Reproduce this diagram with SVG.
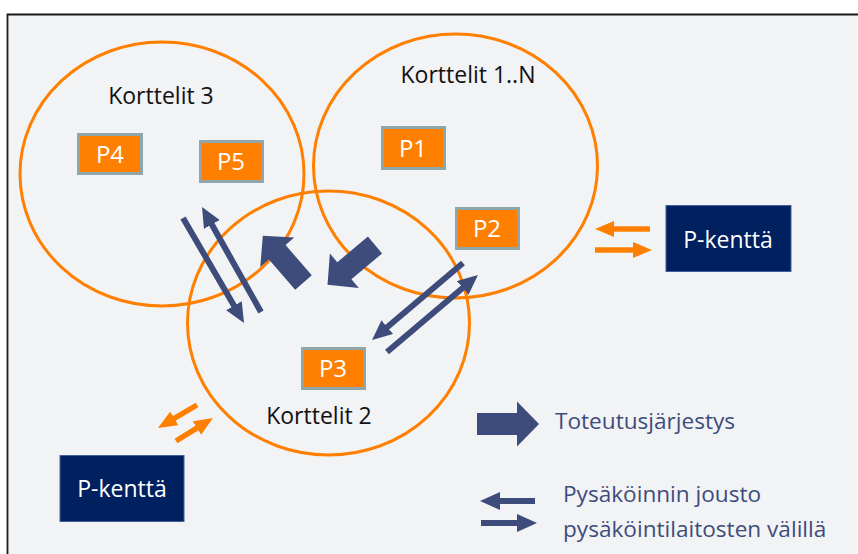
<svg xmlns="http://www.w3.org/2000/svg" width="858" height="554" viewBox="0 0 858 554">
  <defs>
    <style>
      .zone { fill: none; stroke: #ff8000; stroke-width: 3; }
      .pbox { fill: #ff8000; stroke: #8fa7aa; stroke-width: 3; }
      .ptxt { font-family: "Open Sans", "Liberation Sans", sans-serif; font-size: 24px; fill: #ffffff; text-anchor: middle; }
      .lbl { font-family: "Open Sans", "Liberation Sans", sans-serif; font-size: 23px; fill: #111111; text-anchor: middle; }
      .field { fill: #002060; stroke: #44609a; stroke-width: 1; }
      .ftxt { font-family: "Open Sans", "Liberation Sans", sans-serif; font-size: 23px; fill: #ffffff; text-anchor: middle; }
      .leg { font-family: "Open Sans", "Liberation Sans", sans-serif; font-size: 22.6px; fill: #3e4c7c; }
      .flow { stroke: #3e4c7c; stroke-width: 6; fill: none; marker-end: url(#headBlue); }
      .oflow { stroke: #ff8000; stroke-width: 5.5; fill: none; marker-end: url(#headOrange); }
      .block { fill: #3e4c7c; }
    </style>
    <marker id="headBlue" viewBox="0 0 20 18" refX="8" refY="9" markerWidth="20" markerHeight="18" markerUnits="userSpaceOnUse" orient="auto">
      <path d="M0,0 L20,9 L0,18 z" fill="#3e4c7c"/>
    </marker>
    <marker id="headOrange" viewBox="0 0 19 16" refX="7" refY="8" markerWidth="19" markerHeight="16" markerUnits="userSpaceOnUse" orient="auto">
      <path d="M0,0 L19,8 L0,16 z" fill="#ff8000"/>
    </marker>
    <path id="blockArrow" d="M0,-11 L40,-11 L40,-22.5 L62,0 L40,22.5 L40,11 L0,11 z"/>
  </defs>

  <rect x="0" y="0" width="858" height="554" fill="#ffffff"/>
  <rect x="7.5" y="14.5" width="850" height="545" fill="#f2f3f5"/>
  <path d="M7.5,554 L7.5,14.5 L858,14.5" fill="none" stroke="#1a1a1a" stroke-width="1.8"/>

  <g id="zone-korttelit-3">
    <ellipse class="zone" cx="162" cy="174" rx="142" ry="132"/>
    <text class="lbl" x="161" y="104">Korttelit 3</text>
  </g>
  <g id="zone-korttelit-1n">
    <ellipse class="zone" cx="455.5" cy="166" rx="142" ry="132"/>
    <text class="lbl" x="468" y="83">Korttelit 1..N</text>
  </g>
  <g id="zone-korttelit-2">
    <ellipse class="zone" cx="328.5" cy="323" rx="141" ry="132"/>
    <text class="lbl" x="319" y="424">Korttelit 2</text>
  </g>

  <g id="p4">
    <rect class="pbox" x="78.5" y="134.5" width="63" height="39"/>
    <text class="ptxt" x="110" y="162.5">P4</text>
  </g>
  <g id="p5">
    <rect class="pbox" x="200.5" y="141.5" width="62" height="40"/>
    <text class="ptxt" x="231" y="170">P5</text>
  </g>
  <g id="p1">
    <rect class="pbox" x="382.5" y="127.5" width="62" height="41"/>
    <text class="ptxt" x="413" y="156.5">P1</text>
  </g>
  <g id="p2">
    <rect class="pbox" x="456.5" y="208.5" width="62" height="40"/>
    <text class="ptxt" x="487" y="237">P2</text>
  </g>
  <g id="p3">
    <rect class="pbox" x="302.5" y="348.5" width="62" height="40"/>
    <text class="ptxt" x="333" y="377">P3</text>
  </g>

  <g id="p-kentta-right">
    <rect class="field" x="666" y="205.5" width="125" height="66"/>
    <text class="ftxt" x="728" y="248">P-kenttä</text>
  </g>
  <g id="p-kentta-left">
    <rect class="field" x="60" y="455.5" width="124" height="66"/>
    <text class="ftxt" x="122" y="497">P-kenttä</text>
  </g>

  <g id="connectors">
    <use href="#blockArrow" class="block" transform="translate(303.5,282.5) rotate(229)"/>
    <use href="#blockArrow" class="block" transform="translate(375,245) rotate(140)"/>
    <line class="flow" x1="183" y1="218" x2="238" y2="312.6"/>
    <line class="flow" x1="261" y1="312" x2="207.9" y2="217.5"/>
    <line class="flow" x1="463" y1="263" x2="381.2" y2="332.2"/>
    <line class="flow" x1="387" y1="352" x2="468.8" y2="282.8"/>
    <line class="oflow" x1="650" y1="229" x2="607" y2="229"/>
    <line class="oflow" x1="595" y1="250" x2="640" y2="250"/>
    <line class="oflow" x1="197" y1="405" x2="168.3" y2="421.9"/>
    <line class="oflow" x1="176" y1="441" x2="202.8" y2="424.3"/>
  </g>

  <g id="legend">
    <use href="#blockArrow" class="block" transform="translate(477,424)"/>
    <text class="leg" x="555" y="429">Toteutusjärjestys</text>
    <line class="flow" x1="535" y1="501" x2="492" y2="501"/>
    <line class="flow" x1="481" y1="523" x2="525" y2="523"/>
    <text class="leg" x="563" y="502">Pysäköinnin jousto</text>
    <text class="leg" x="563" y="537">pysäköintilaitosten välillä</text>
  </g>
</svg>
